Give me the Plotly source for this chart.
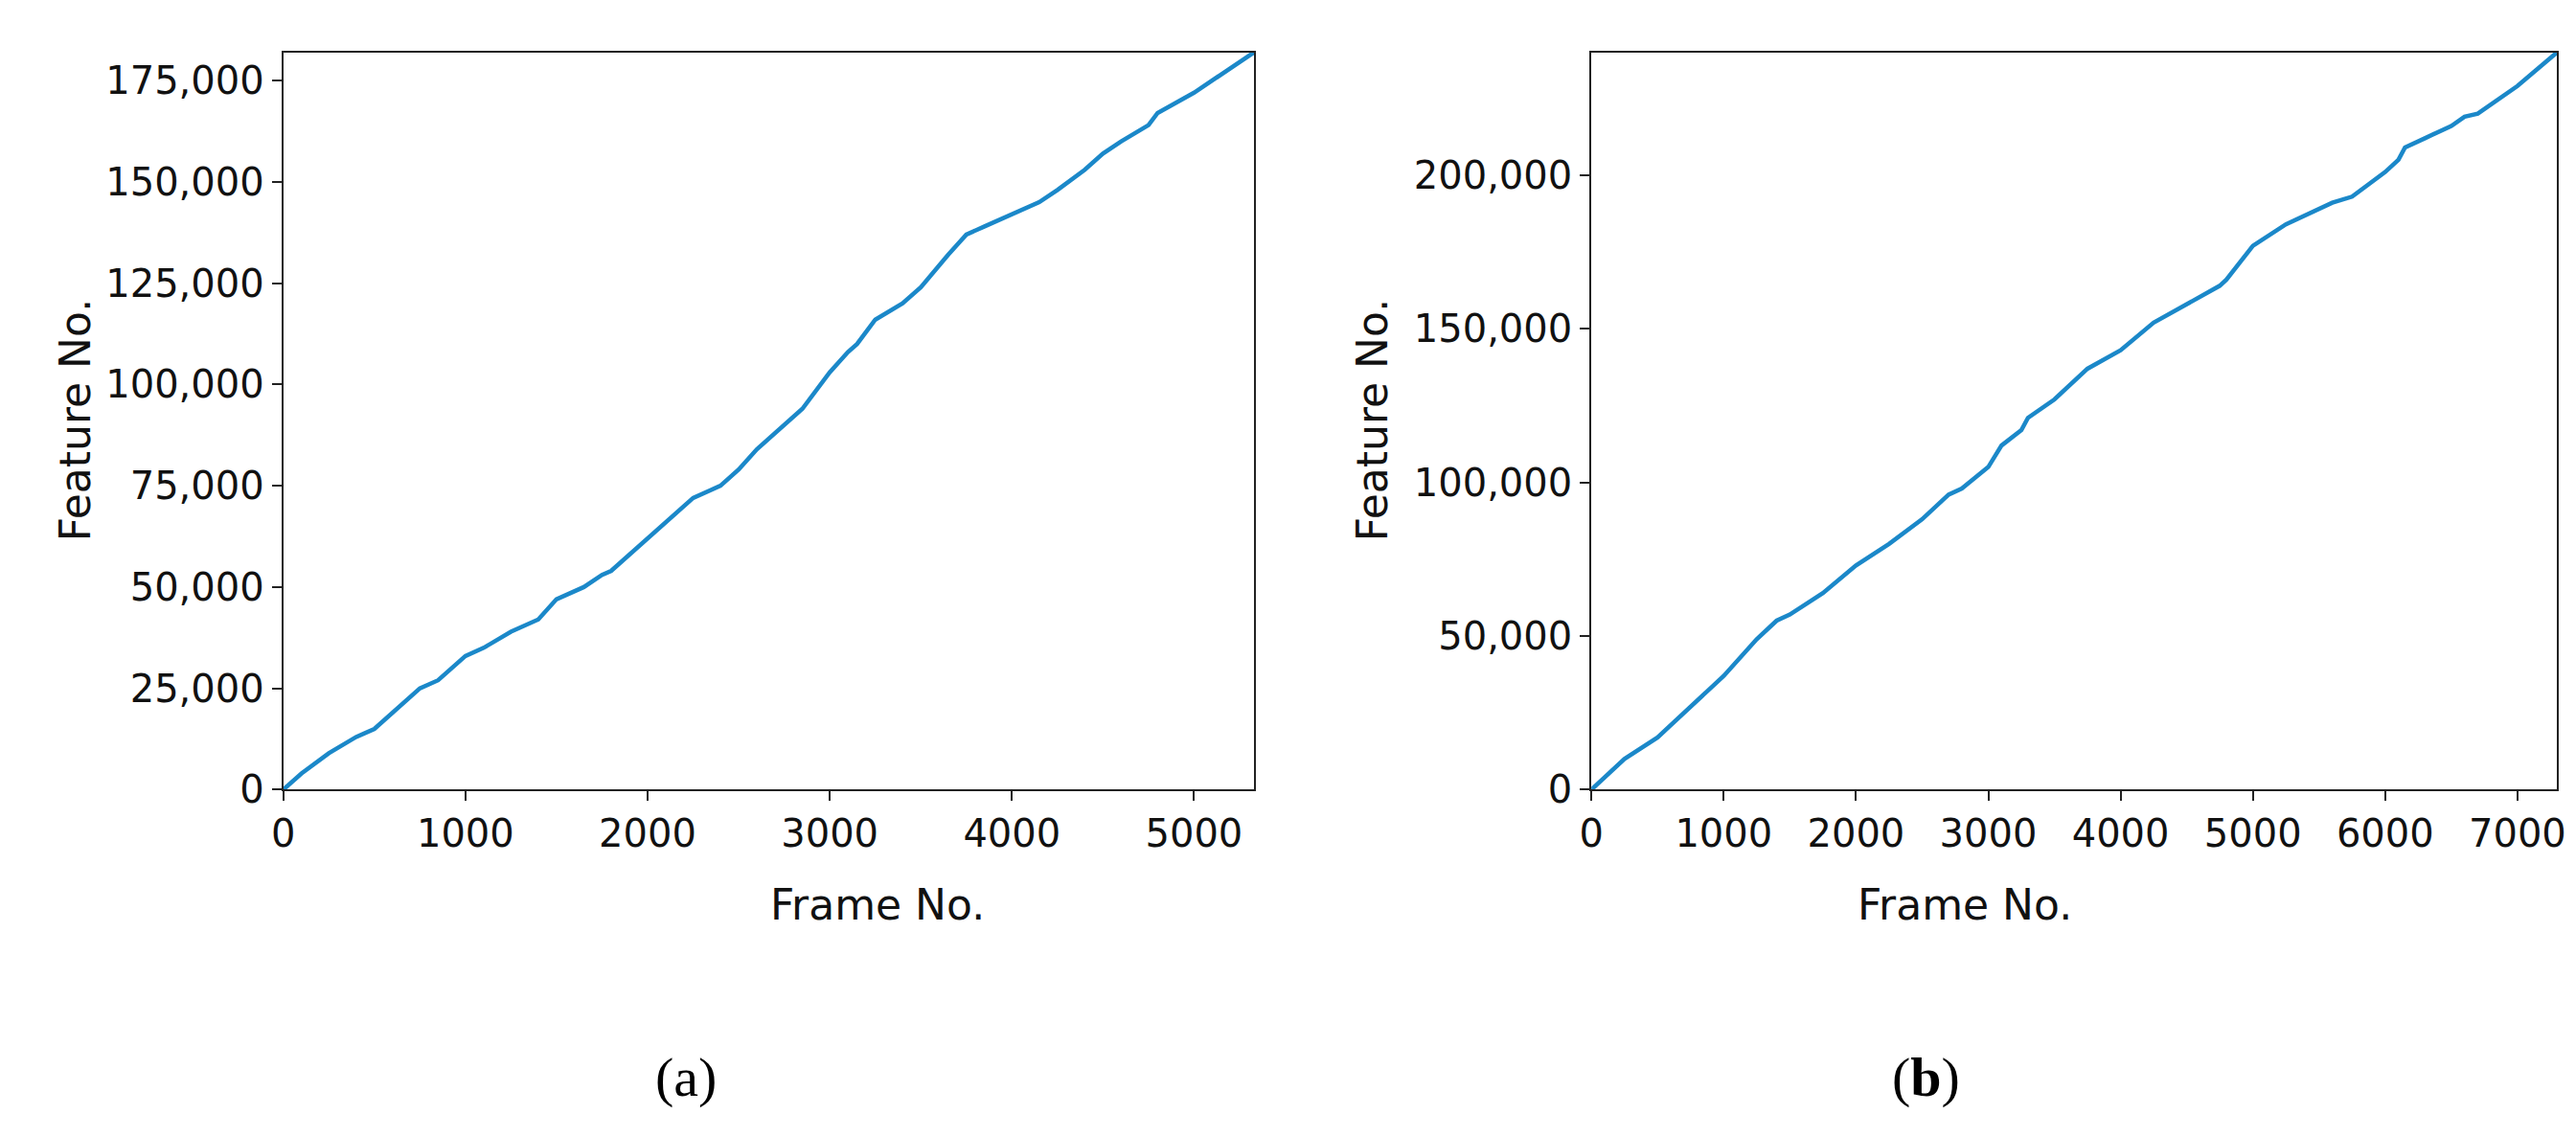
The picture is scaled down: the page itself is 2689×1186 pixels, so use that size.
import plotly.graph_objects as go

LINE_COLOR = "#1b88c9"

# panel (a)
frames_a = [0, 100, 250, 400, 500, 600, 750, 850, 1000, 1100, 1250, 1400, 1500, 1650, 1750, 1800,
            2000, 2150, 2250, 2400, 2500, 2600, 2750, 2850, 3000, 3100, 3150, 3250, 3400, 3500,
            3650, 3750, 3850, 4000, 4150, 4250, 4400, 4500, 4600, 4750, 4800, 5000, 5100, 5200, 5330]
features_a = [0, 4000, 9000, 13000, 15000, 19000, 25000, 27000, 33000, 35000, 39000, 42000, 47000,
              50000, 53000, 54000, 62000, 68000, 72000, 75000, 79000, 84000, 90000, 94000, 103000,
              108000, 110000, 116000, 120000, 124000, 132000, 137000, 139000, 142000, 145000,
              148000, 153000, 157000, 160000, 164000, 167000, 172000, 175000, 178000, 182000]

# panel (b)
frames_b = [0, 100, 250, 500, 750, 1000, 1250, 1400, 1500, 1750, 2000, 2250, 2500, 2700, 2800,
            3000, 3100, 3250, 3300, 3500, 3750, 4000, 4250, 4500, 4750, 4800, 5000, 5250, 5500,
            5600, 5750, 6000, 6100, 6150, 6300, 6500, 6600, 6700, 7000, 7300]
features_b = [0, 4000, 10000, 17000, 27000, 37000, 49000, 55000, 57000, 64000, 73000, 80000, 88000,
              96000, 98000, 105000, 112000, 117000, 121000, 127000, 137000, 143000, 152000, 158000,
              164000, 166000, 177000, 184000, 189000, 191000, 193000, 201000, 205000, 209000,
              212000, 216000, 219000, 220000, 229000, 240000]

ticks_a_y = [0, 25000, 50000, 75000, 100000, 125000, 150000, 175000]
ticks_b_y = [0, 50000, 100000, 150000, 200000]
ticks_a_x = [0, 1000, 2000, 3000, 4000, 5000]
ticks_b_x = [0, 1000, 2000, 3000, 4000, 5000, 6000, 7000]

TICK_FONT = dict(family="DejaVu Sans", size=40, color="#111")
LABEL_FONT = dict(family="DejaVu Sans", size=44, color="#111")

fig = go.Figure()
fig.add_trace(go.Scatter(x=frames_a, y=features_a, mode="lines",
                         line=dict(color=LINE_COLOR, width=4.5), xaxis="x", yaxis="y"))
fig.add_trace(go.Scatter(x=frames_b, y=features_b, mode="lines",
                         line=dict(color=LINE_COLOR, width=4.5), xaxis="x2", yaxis="y2"))


def axis(domain, rng, ticks, anchor, commas=True):
    return dict(
        domain=domain, range=rng, tickvals=ticks,
        ticktext=[f"{t:,}" if commas else str(t) for t in ticks], anchor=anchor,
        showgrid=False, zeroline=False, showline=True, linecolor="#222", linewidth=2,
        mirror=True, ticks="outside", ticklen=10, tickwidth=2, tickcolor="#222",
        tickfont=TICK_FONT,
    )


fig.update_layout(
    width=2689, height=1186,
    margin=dict(l=0, r=0, t=0, b=0),
    paper_bgcolor="white", plot_bgcolor="white",
    showlegend=False,
    xaxis=axis([0.103, 0.483], [0, 5330], ticks_a_x, "y", commas=False),
    yaxis=axis([0.298, 0.96], [0, 182000], ticks_a_y, "x"),
    xaxis2=axis([0.615, 0.993], [0, 7300], ticks_b_x, "y2", commas=False),
    yaxis2=axis([0.298, 0.96], [0, 240000], ticks_b_y, "x2"),
)

annotations = [
    dict(text="Frame No.", x=0.293, y=0.195, font=LABEL_FONT),
    dict(text="Frame No.", x=0.804, y=0.195, font=LABEL_FONT),
    dict(text="Feature No.", x=0.011, y=0.63, textangle=-90, font=LABEL_FONT),
    dict(text="Feature No.", x=0.529, y=0.63, textangle=-90, font=LABEL_FONT),
    dict(text="(a)", x=0.248, y=0.04, font=dict(family="Liberation Serif", size=58, color="black")),
    dict(text="(<b>b</b>)", x=0.760, y=0.04, font=dict(family="Liberation Serif", size=58, color="black")),
]
for a in annotations:
    fig.add_annotation(xref="paper", yref="paper", showarrow=False, yanchor="middle", **a)

fig.write_html("out.html")
